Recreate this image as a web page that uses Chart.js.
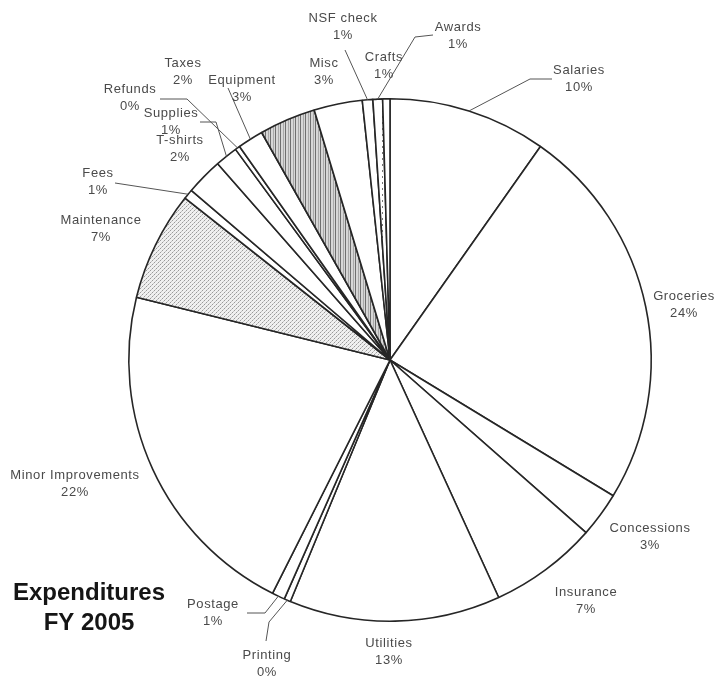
<!DOCTYPE html>
<html>
<head>
<meta charset="utf-8">
<title>Expenditures FY 2005</title>
<script src="https://cdn.jsdelivr.net/npm/chart.js@4/dist/chart.umd.min.js"></script>
<style>
    html, body { margin: 0; padding: 0; background: #fff; }
    #wrap { width: 721px; height: 680px; position: relative; }
</style>
</head>
<body>
<div id="wrap"><canvas id="expenseChart"></canvas></div>
<script>
// clockwise from 12 o'clock
const categories = [
    'Salaries', 'Groceries', 'Concessions', 'Insurance', 'Utilities', 'Printing',
    'Postage', 'Minor Improvements', 'Maintenance', 'Fees', 'T-shirts', 'Supplies',
    'Refunds', 'Taxes', 'Equipment', 'Misc', 'NSF check', 'Awards', 'Crafts',
];
const shares = [
    9.8, 24.0, 2.8, 6.7, 13.1, 0.4,
    0.8, 21.5, 6.8, 0.6, 2.3, 1.4,
    0.3, 1.6, 3.5, 3.0, 0.65, 0.6, 0.45,
];
const percentLabels = [
    '10%', '24%', '3%', '7%', '13%', '0%',
    '1%', '22%', '7%', '1%', '2%', '1%',
    '0%', '2%', '3%', '3%', '1%', '1%', '1%',
];
const titleLines = ['Expenditures', 'FY 2005'];

function makePattern(w, h, draw) {
    const c = document.createElement('canvas');
    c.width = w;
    c.height = h;
    const g = c.getContext('2d');
    draw(g);
    return c.getContext('2d').createPattern(c, 'repeat');
}

const finePattern = makePattern(4, 4, (g) => {
    g.fillStyle = '#f0f0f0';
    g.fillRect(0, 0, 4, 4);
    g.fillStyle = '#9a9a9a';
    g.fillRect(0, 0, 1, 1);
    g.fillRect(2, 2, 1, 1);
    g.fillStyle = '#c4c4c4';
    g.fillRect(1, 3, 1, 1);
    g.fillRect(3, 1, 1, 1);
});

const stripePattern = makePattern(5, 4, (g) => {
    g.fillStyle = '#d6d6d6';
    g.fillRect(0, 0, 5, 4);
    g.fillStyle = '#6e6e6e';
    g.fillRect(0, 0, 1, 4);
    g.fillStyle = '#a8a8a8';
    g.fillRect(3, 0, 1, 4);
});

const dotPattern = makePattern(9, 6, (g) => {
    g.fillStyle = '#ffffff';
    g.fillRect(0, 0, 9, 6);
    g.fillStyle = '#777';
    g.fillRect(4, 2, 1, 2);
});

const fills = categories.map((name) => {
    if (name === 'Maintenance') return finePattern;
    if (name === 'Equipment') return stripePattern;
    if (name === 'Awards') return dotPattern;
    return '#ffffff';
});

// label text centres and leader elbows, relative to the pie centre
const placement = {
    'Salaries': { at: [189, -290], leader: [[162, -281], [140, -281]] },
    'Groceries': { at: [294, -64] },
    'Concessions': { at: [260, 168] },
    'Insurance': { at: [196, 232] },
    'Utilities': { at: [-1, 283] },
    'Printing': { at: [-123, 295], leader: [[-124, 281], [-121, 262]] },
    'Postage': { at: [-177, 244], leader: [[-143, 253], [-125, 253]] },
    'Minor Improvements': { at: [-315, 115] },
    'Maintenance': { at: [-289, -140] },
    'Fees': { at: [-292, -187], leader: [[-275, -177]] },
    'T-shirts': { at: [-210, -220] },
    'Supplies': { at: [-219, -247], leader: [[-190, -238], [-174, -238]] },
    'Refunds': { at: [-260, -271], leader: [[-230, -261], [-203, -261]] },
    'Taxes': { at: [-207, -297], leader: [[-162, -272]] },
    'Equipment': { at: [-148, -280] },
    'Misc': { at: [-66, -297] },
    'NSF check': { at: [-47, -342], leader: [[-45, -310]] },
    'Awards': { at: [68, -333], leader: [[43, -325], [25, -323]] },
    'Crafts': { at: [-6, -303] },
};

const sliceLabels = {
    id: 'sliceLabels',
    afterDatasetsDraw(chart) {
        const ctx = chart.ctx;
        const meta = chart.getDatasetMeta(0);

        ctx.save();
        meta.data.forEach((arc, i) => {
            const p = arc.getProps(['x', 'y', 'startAngle', 'endAngle', 'outerRadius'], true);
            const cfg = placement[categories[i]];

            if (!cfg) {
                return;
            }

            const mid = (p.startAngle + p.endAngle) / 2;
            const edgeX = p.x + Math.cos(mid) * p.outerRadius;
            const edgeY = p.y + Math.sin(mid) * p.outerRadius;

            if (cfg.leader) {
                ctx.strokeStyle = '#555';
                ctx.lineWidth = 1;
                ctx.beginPath();
                cfg.leader.forEach(([dx, dy], k) => {
                    if (k === 0) {
                        ctx.moveTo(p.x + dx, p.y + dy);
                    } else {
                        ctx.lineTo(p.x + dx, p.y + dy);
                    }
                });
                ctx.lineTo(edgeX, edgeY);
                ctx.stroke();
            }

            const tx = p.x + cfg.at[0];
            const ty = p.y + cfg.at[1];
            ctx.fillStyle = '#4a4a4a';
            ctx.font = '13px "Liberation Sans", Arial, sans-serif';
            ctx.letterSpacing = '0.6px';
            ctx.textAlign = 'center';
            ctx.textBaseline = 'middle';
            ctx.fillText(categories[i], tx, ty);
            ctx.fillText(percentLabels[i], tx, ty + 17);
        });
        ctx.restore();
    },
};

const cornerTitle = {
    id: 'cornerTitle',
    afterDraw(chart) {
        const ctx = chart.ctx;
        ctx.save();
        ctx.fillStyle = '#151515';
        ctx.font = 'bold 24px "Liberation Sans", Arial, sans-serif';
        ctx.textAlign = 'center';
        ctx.textBaseline = 'middle';
        ctx.fillText(titleLines[0], 89, 593);
        ctx.fillText(titleLines[1], 89, 623);
        ctx.restore();
    },
};

new Chart(document.getElementById('expenseChart'), {
    type: 'pie',
    data: {
        labels: categories,
        datasets: [
            {
                data: shares,
                backgroundColor: fills,
                borderColor: '#262626',
                borderWidth: 1.6,
            },
        ],
    },
    options: {
        responsive: true,
        maintainAspectRatio: false,
        animation: false,
        layout: {
            padding: { left: 128, right: 69, top: 98, bottom: 58 },
        },
        plugins: {
            legend: { display: false },
            tooltip: { enabled: false },
        },
    },
    plugins: [sliceLabels, cornerTitle],
});
</script>
</body>
</html>
